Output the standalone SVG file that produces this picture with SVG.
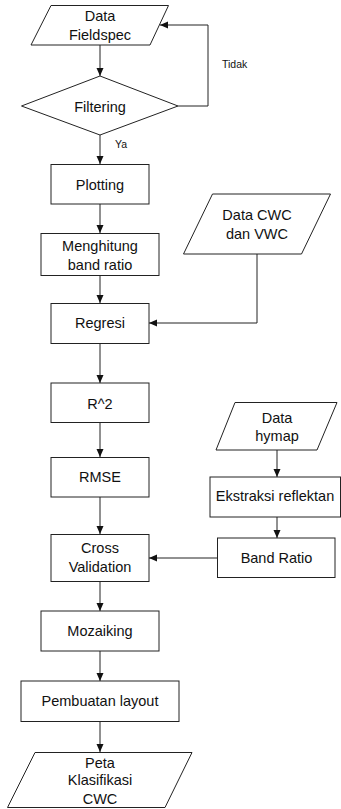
<svg xmlns="http://www.w3.org/2000/svg" width="341" height="809" viewBox="0 0 341 809">
<defs>
<marker id="ah" markerUnits="userSpaceOnUse" markerWidth="8" markerHeight="8" viewBox="0 0 8 8" refX="8" refY="4" orient="auto">
<path d="M0,0.5 L8,4 L0,7.5 Z" fill="#111"/>
</marker>
<style>
.s{fill:#fff;stroke:#222;stroke-width:1}
.t{font-family:"Liberation Sans",Arial,sans-serif;font-size:14.5px;fill:#111;text-anchor:middle}
.l{font-family:"Liberation Sans",Arial,sans-serif;font-size:10.5px;fill:#111}
.c{fill:none;stroke:#222;stroke-width:1;marker-end:url(#ah)}
</style>
</defs>
<rect width="341" height="809" fill="#fff"/>
<g id="connectors">
<path class="c" d="M100,45 V76"/>
<path class="c" d="M178,106 H208 V25 H160"/>
<path class="c" d="M100,135 V164"/>
<path class="c" d="M100,204 V233"/>
<path class="c" d="M100,276 V303"/>
<path class="c" d="M257,254 V323 H149"/>
<path class="c" d="M100,343 V383"/>
<path class="c" d="M100,422 V457"/>
<path class="c" d="M100,497 V534"/>
<path class="c" d="M277,450 V477"/>
<path class="c" d="M277,517 V538"/>
<path class="c" d="M218,558 H149"/>
<path class="c" d="M100,581 V611"/>
<path class="c" d="M100,651 V681"/>
<path class="c" d="M100,722 V752"/>
<text class="l" x="222" y="68">Tidak</text>
<text class="l" x="115" y="147.5">Ya</text>
</g>
<g id="fieldspec">
<polygon class="s" points="51,5.5 168.5,5.5 150,45 31,45"/>
<text class="t" x="100" y="21">Data</text>
<text class="t" x="100" y="39.5">Fieldspec</text>
</g>
<g id="filtering">
<polygon class="s" points="100,76 178,106 100,135 21.5,106"/>
<text class="t" x="100" y="111.5">Filtering</text>
</g>
<g id="plotting">
<rect class="s" x="51" y="164.5" width="98" height="39.5"/>
<text class="t" x="100" y="190">Plotting</text>
</g>
<g id="menghitung">
<rect class="s" x="41" y="233.5" width="118" height="42"/>
<text class="t" x="100" y="251">Menghitung</text>
<text class="t" x="100" y="269.5">band ratio</text>
</g>
<g id="datacwc">
<polygon class="s" points="212.5,194 330.5,194 301.5,254 183.5,254"/>
<text class="t" x="257" y="220">Data CWC</text>
<text class="t" x="257" y="238.5">dan VWC</text>
</g>
<g id="regresi">
<rect class="s" x="51" y="303.5" width="98" height="40"/>
<text class="t" x="100" y="328">Regresi</text>
</g>
<g id="r2">
<rect class="s" x="51" y="383" width="98" height="39.5"/>
<text class="t" x="100" y="408.5">R^2</text>
</g>
<g id="rmse">
<rect class="s" x="51" y="457.5" width="98" height="39.5"/>
<text class="t" x="100" y="482">RMSE</text>
</g>
<g id="hymap">
<polygon class="s" points="235,402.5 337,402.5 317,450 216,450"/>
<text class="t" x="277" y="422.5">Data</text>
<text class="t" x="277" y="441">hymap</text>
</g>
<g id="ekstraksi">
<rect class="s" x="210" y="477" width="130.5" height="40"/>
<text class="t" x="275" y="501">Ekstraksi reflektan</text>
</g>
<g id="bandratio">
<rect class="s" x="217.5" y="538" width="117.5" height="39.5"/>
<text class="t" x="276.5" y="563">Band Ratio</text>
</g>
<g id="crossval">
<rect class="s" x="51" y="534.5" width="98" height="47"/>
<text class="t" x="100" y="552.5">Cross</text>
<text class="t" x="100" y="572">Validation</text>
</g>
<g id="mozaiking">
<rect class="s" x="41" y="611" width="118" height="40"/>
<text class="t" x="100" y="636">Mozaiking</text>
</g>
<g id="layout">
<rect class="s" x="21" y="681" width="158" height="40.5"/>
<text class="t" x="100" y="706">Pembuatan layout</text>
</g>
<g id="peta">
<polygon class="s" points="35,752.5 192,752.5 165,807.5 7.5,807.5"/>
<text class="t" x="100" y="767.5">Peta</text>
<text class="t" x="100" y="785">Klasifikasi</text>
<text class="t" x="100" y="803.5">CWC</text>
</g>
</svg>
